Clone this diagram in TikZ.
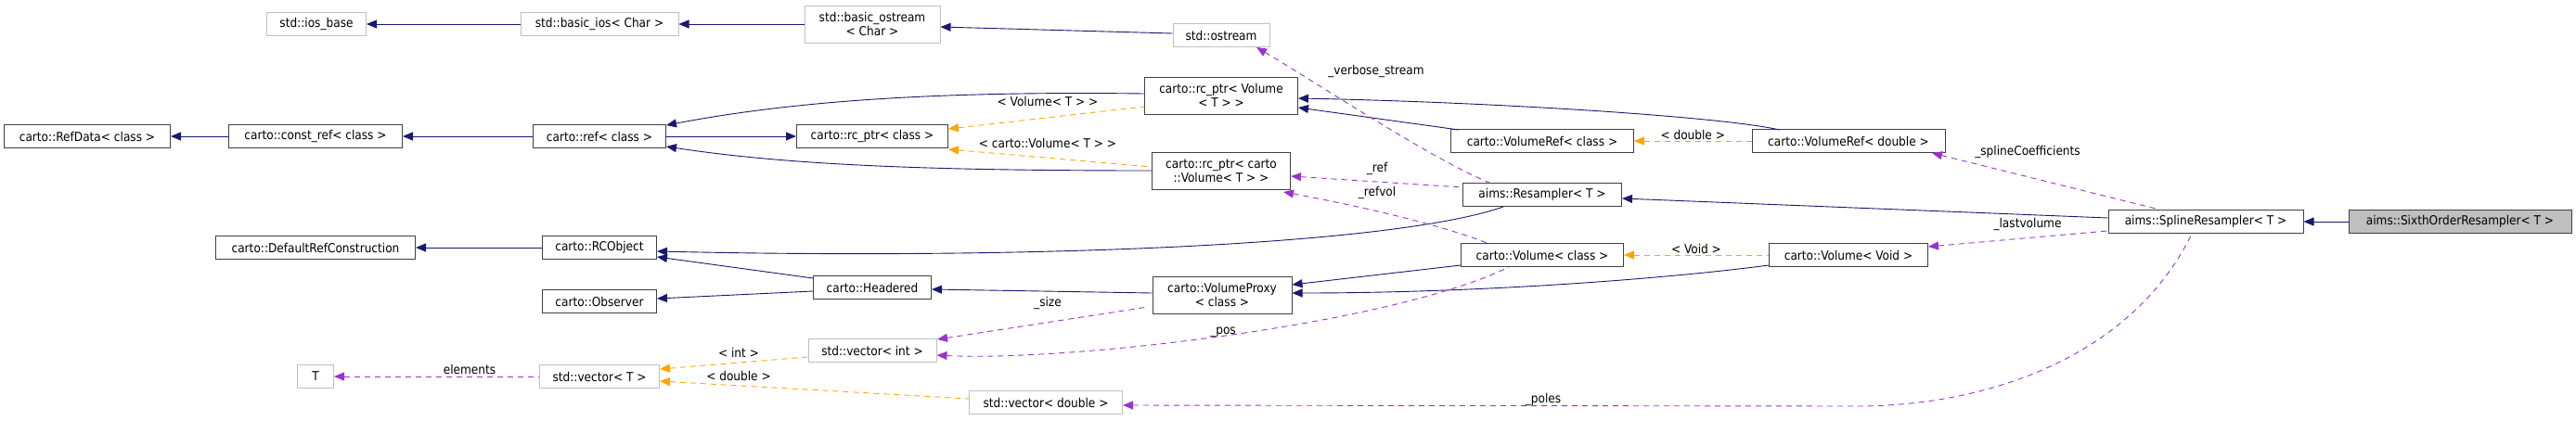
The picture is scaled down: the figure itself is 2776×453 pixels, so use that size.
\documentclass[tikz,border=0pt]{standalone}
\usepackage{fontspec}
\setmainfont{DejaVu Sans Condensed}
\usetikzlibrary{arrows.meta}
\definecolor{inhc}{HTML}{191970}
\definecolor{usec}{HTML}{9A32CD}
\definecolor{tmplc}{HTML}{FFA500}
\definecolor{greyb}{HTML}{BFBFBF}
\begin{document}
\begin{tikzpicture}[x=1pt,y=-1pt,
  every node/.style={font=\fontsize{13.5}{15}\selectfont},
  box/.style={draw=black!75,line width=1pt,fill=white,inner sep=0pt,align=center,minimum height=25pt},
  gbox/.style={box,draw=greyb},
  tip/.style={{Triangle[width=9pt,length=11pt]}-},
  inh/.style={tip,draw=inhc,line width=0.9pt},
  use/.style={tip,draw=usec,dash pattern=on 6pt off 5pt,line width=0.9pt},
  tmpl/.style={tip,draw=tmplc,dash pattern=on 6pt off 5pt,line width=0.9pt},
  lab/.style={inner sep=1pt,text=black}]
\useasboundingbox (0,0) rectangle (2776,453);
% nodes
\node[gbox,minimum width=107pt] (ios) at (341,26) {std::ios\_base};
\node[gbox,minimum width=170pt] (bios) at (646,26) {std::basic\_ios< Char >};
\node[gbox,minimum width=146pt,minimum height=40pt] (bost) at (940,26) {std::basic\_ostream\\< Char >};
\node[gbox,minimum width=104pt] (ost) at (1316,38) {std::ostream};
\node[box,minimum width=179pt] (refdata) at (94,147) {carto::RefData< class >};
\node[box,minimum width=187pt] (cref) at (340,147) {carto::const\_ref< class >};
\node[box,minimum width=143pt] (ref) at (646,147) {carto::ref< class >};
\node[box,minimum width=165pt,minimum height=40pt] (rcvol) at (1316,103) {carto::rc\_ptr< Volume\\< T > >};
\node[box,minimum width=163pt] (rcc) at (940,147) {carto::rc\_ptr< class >};
\node[box,minimum width=149pt,minimum height=40pt] (rccarto) at (1316,184) {carto::rc\_ptr< carto\\::Volume< T > >};
\node[box,minimum width=197pt] (vrefc) at (1662,152) {carto::VolumeRef< class >};
\node[box,minimum width=208pt] (vrefd) at (1992,152) {carto::VolumeRef< double >};
\node[box,minimum width=171pt] (resamp) at (1662,210) {aims::Resampler< T >};
\node[box,minimum width=215pt] (defref) at (340,267) {carto::DefaultRefConstruction};
\node[box,minimum width=123pt] (rcobj) at (646,267) {carto::RCObject};
\node[box,minimum width=123pt] (obs) at (646,325) {carto::Observer};
\node[box,minimum width=127pt] (head) at (940,310) {carto::Headered};
\node[box,minimum width=150pt,minimum height=40pt] (vproxy) at (1317,318) {carto::VolumeProxy\\< class >};
\node[box,minimum width=175pt] (volc) at (1662,275) {carto::Volume< class >};
\node[box,minimum width=171pt] (volv) at (1992,275) {carto::Volume< Void >};
\node[box,minimum width=210pt] (spline) at (2377,239) {aims::SplineResampler< T >};
\node[box,minimum width=240pt,fill=greyb] (sixth) at (2651,239) {aims::SixthOrderResampler< T >};
\node[gbox,minimum width=39pt] (T) at (340,406) {T};
\node[gbox,minimum width=129pt] (vecT) at (646,406) {std::vector< T >};
\node[gbox,minimum width=138pt] (veci) at (940,378) {std::vector< int >};
\node[gbox,minimum width=165pt] (vecd) at (1127,434) {std::vector< double >};
% inheritance
\draw[inh] (ios.east) -- (bios.west);
\draw[inh] (bios.east) -- (bost.west);
\draw[inh] (bost.east |- 0,29) -- (ost.west |- 0,36);
\draw[inh] (refdata.east) -- (cref.west);
\draw[inh] (cref.east) -- (ref.west);
\draw[inh] (rcc.west) -- (ref.east);
\draw[inh] (ref.east |- 0,135) .. controls (850,110) and (1000,98) .. (rcvol.west |- 0,101);
\draw[inh] (ref.east |- 0,158) .. controls (850,178) and (1000,184) .. (rccarto.west |- 0,184);
\draw[inh] (rcvol.east |- 0,116) -- (1572,140);
\draw[inh] (rcvol.east |- 0,106) .. controls (1600,110) and (1850,125) .. (1918,140);
\draw[inh] (defref.east) -- (rcobj.west);
\draw[inh] (rcobj.east |- 0,271) .. controls (1100,280) and (1500,265) .. (1620,223);
\draw[inh] (rcobj.east |- 0,277) -- (head.west |- 0,300);
\draw[inh] (obs.east |- 0,322) -- (head.west |- 0,314);
\draw[inh] (head.east |- 0,312) -- (vproxy.west |- 0,316);
\draw[inh] (vproxy.east |- 0,307) -- (volc.west |- 0,286);
\draw[inh] (vproxy.east |- 0,316) .. controls (1600,316) and (1800,300) .. (volv.west |- 0,286);
\draw[inh] (resamp.east |- 0,214) -- (spline.west |- 0,235);
\draw[inh] (spline.east) -- (sixth.west);
% template instances
\draw[tmpl] (rcc.east |- 0,139) -- (rcvol.west |- 0,115);
\node[lab] (l1) at (1129,109) {< Volume< T > >};
\draw[tmpl] (rcc.east |- 0,161) -- (rccarto.west |- 0,180);
\node[lab] (l2) at (1129,154) {< carto::Volume< T > >};
\draw[tmpl] (vrefc.east) -- node[lab,above]{< double >} (vrefd.west);
\draw[tmpl] (volc.east) -- node[lab,above]{< Void >} (volv.west);
\draw[tmpl] (vecT.east |- 0,398) -- (veci.west |- 0,385);
\node[lab] (l3) at (796,380) {< int >};
\draw[tmpl] (vecT.east |- 0,411) -- (vecd.west |- 0,430);
\node[lab] (l4) at (796,405) {< double >};
% usage
\draw[use] (1354,51) .. controls (1420,90) and (1540,170) .. (1605,197);
\node[lab] (l5) at (1483,77) {\_verbose\_stream};
\draw[use] (rccarto.east |- 0,190) -- (resamp.west |- 0,202);
\node[lab] (l6) at (1484,182) {\_ref};
\draw[use] (1383,207) .. controls (1480,225) and (1560,245) .. (1605,263);
\node[lab] (l7) at (1484,208) {\_refvol};
\draw[use] (1010,366) -- (1237,331);
\node[lab] (l8) at (1129,327) {\_size};
\draw[use] (veci.east |- 0,383) .. controls (1150,390) and (1500,350) .. (1626,288);
\node[lab] (l9) at (1318,358) {\_pos};
\draw[use] (T.east) -- (vecT.west);
\node[lab] (l10) at (506,398) {elements};
\draw[use] (2082,165) -- (2331,227);
\node[lab] (l11) at (2185,164) {\_splineCoefficients};
\draw[use] (volv.east |- 0,266) -- (spline.west |- 0,249);
\node[lab] (l12) at (2185,242) {\_lastvolume};
\draw[use] (vecd.east |- 0,437) -- (2000,438) .. controls (2150,438) and (2300,380) .. (2362,252);
\node[lab] (l13) at (1663,431) {\_poles};
\end{tikzpicture}
\end{document}
